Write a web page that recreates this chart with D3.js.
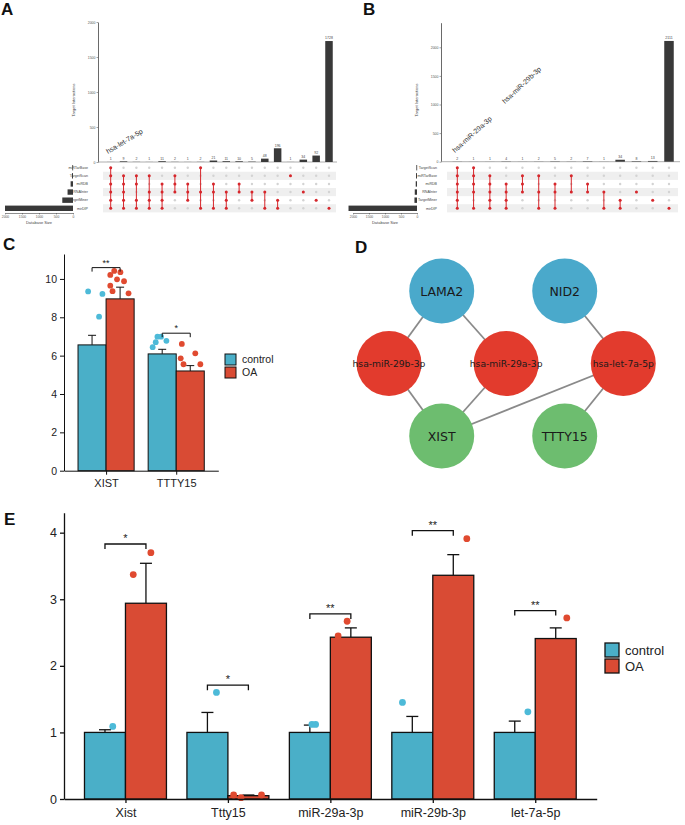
<!DOCTYPE html>
<html><head><meta charset="utf-8">
<script src="https://cdn.jsdelivr.net/npm/d3@7"></script>
<style>body{margin:0;background:#fff} svg{display:block;font-family:"Liberation Sans",Arial,sans-serif}</style>
</head><body><svg id="fig" width="685" height="825"></svg>
<script>
// ---------------- DATA ----------------
// Panel A (UpSet)
const setsA = ["miRTarBase","TargetScan","miRDB","RNAInter","TargetMiner","mirDIP"];
const setSizesA = [20, 30, 70, 160, 315, 2000];
const countsA = [1,9,2,1,11,2,1,2,21,11,10,5,48,196,1,34,92,1728];
const membersA = [[0,1,2,3,4,5],[1,2,3,4,5],[1,2,4,5],[1,3,4,5],[2,3,4,5],[1,2,3],[2,3,4],[0,3,5],[2,3,5],[3,4,5],[2,3],[3,4],[3,5],[4,5],[1],[3],[4],[5]];
const annotA = ["hsa-let-7a-5p"];
// Panel B (UpSet)
const setsB = ["TargetScan","miRTarBase","miRDB","RNAInter","TargetMiner","mirDIP"];
const setSizesB = [20, 30, 40, 70, 80, 2140];
const countsB = [2,1,1,4,1,2,5,2,7,1,34,8,13,2111];
const membersB = [[0,1,2,3,4,5],[0,1,2,3,5],[1,2,3,4,5],[2,3,4,5],[1,2,3],[1,3,5],[2,3,5],[1,3],[2,3],[3,5],[4,5],[3],[4],[5]];
const annotB = ["hsa-miR-29a-3p","hsa-miR-29b-3p"];
const upsetTicks = [0,500,1000,1500,2000];

// Panel C
const catsC = ["XIST","TTTY15"];
const ctrlC = [6.56, 6.09];
const ctrlErrC = [0.50, 0.24];
const oaC = [8.96, 5.20];
const oaErrC = [0.61, 0.28];
const ctrlPtsC = [[9.35, 9.22, 8.03], [6.99, 6.99, 6.70, 6.44, 6.77]];
const oaPtsC = [[10.42, 10.35, 10.21, 9.98, 9.88, 9.65, 9.36, 9.25], [6.61, 5.86, 6.12, 5.55, 5.55]];
const ctrlJitC = [[-0.14, 0.37, 0.25], [-0.17, -0.04, -0.23, -0.34, 0.15]];
const oaJitC = [[-0.21, 0.01, -0.35, -0.11, 0.14, -0.35, -0.27, 0.30], [-0.30, -0.34, 0.18, -0.24, 0.36]];
const sigC = ["**", "*"];
const sigLevelC = [10.59, 7.17];
const ticksC = [0, 2, 4, 6, 8, 10];

// Panel D (network)
const nodesD = [
  {id:"LAMA2", type:"mRNA", col:0.45},
  {id:"NID2", type:"mRNA", col:1.5},
  {id:"hsa-miR-29b-3p", type:"miRNA", col:0},
  {id:"hsa-miR-29a-3p", type:"miRNA", col:1},
  {id:"hsa-let-7a-5p", type:"miRNA", col:2},
  {id:"XIST", type:"lncRNA", col:0.45},
  {id:"TTTY15", type:"lncRNA", col:1.5}
];
const linksD = [
  ["LAMA2","hsa-miR-29b-3p"],["LAMA2","hsa-miR-29a-3p"],["NID2","hsa-let-7a-5p"],
  ["hsa-miR-29b-3p","XIST"],["hsa-miR-29a-3p","XIST"],["hsa-let-7a-5p","XIST"],["hsa-let-7a-5p","TTTY15"]
];

// Panel E
const catsE = ["Xist","Ttty15","miR-29a-3p","miR-29b-3p","let-7a-5p"];
const ctrlE = [1.0, 1.0, 1.0, 1.0, 1.0];
const ctrlErrE = [0.04, 0.30, 0.11, 0.24, 0.17];
const oaE = [2.94, 0.05, 2.43, 3.36, 2.41];
const oaErrE = [0.60, 0.01, 0.14, 0.31, 0.16];
const ctrlPtsE = [[1.09], [1.60], [1.12, 1.12], [1.45], [1.31]];
const oaPtsE = [[3.70, 3.37], [0.06, 0.02, 0.06], [2.67, 2.45], [3.91], [2.72]];
const ctrlJitE = [[0.19], [0.22], [0.05, 0.14], [-0.24], [0.32]];
const oaJitE = [[0.12, -0.31], [-0.36, -0.18, 0.32], [-0.09, -0.31], [0.33], [0.27]];
const sigE = ["*", "*", "**", "**", "**"];
const sigLevelE = [3.83, 1.71, 2.78, 4.03, 2.83];
const ticksE = [0, 1, 2, 3, 4];

const groups = ["control", "OA"];
const COL = {ctrl:"#4aafc8", oa:"#d94b34", ctrlPt:"#4dbad8", oaPt:"#e04a30"};

// ---------------- DRAW ----------------
const fig = d3.select("#fig");

function panelLabel(t, x, y) {
  fig.append("text").attr("x", x).attr("y", y).attr("font-size", 17).attr("font-weight", "bold").attr("fill", "#111").text(t);
}

function drawUpset(L, sets, setSizes, counts, members, annots) {
  const g = fig.append("g");
  const n = counts.length;
  const x = d3.scalePoint().domain(d3.range(n)).range([L.colX0, L.colX1]);
  const y = d3.scaleLinear().domain([0, L.yMax]).range([L.yBase, L.yTop]);
  const rowY = d3.scalePoint().domain(d3.range(sets.length)).range([L.row0, L.row1]);
  const rs = rowY.step();
  const sx = d3.scaleLinear().domain([0, 2000]).range([L.set0, L.set2000]);
  g.selectAll(".stripe").data(d3.range(sets.length).filter(i => i % 2 === 1)).join("rect")
    .attr("x", L.stripeX0).attr("width", L.stripeX1 - L.stripeX0)
    .attr("y", i => rowY(i) - rs / 2).attr("height", rs).attr("fill", "#efefef");
  const ya = g.append("g").attr("transform", `translate(${L.yAxisX},0)`)
    .call(d3.axisLeft(y).tickValues(upsetTicks).tickSize(1.5).tickSizeOuter(0).tickPadding(1).tickFormat(d3.format("d")));
  ya.select(".domain").attr("stroke", "#444").attr("stroke-width", 0.8);
  ya.selectAll(".tick line").attr("stroke", "#444").attr("stroke-width", 0.5);
  ya.selectAll("text").attr("font-size", 3.5).attr("fill", "#555").attr("font-family", "Liberation Sans, Arial");
  g.append("text").attr("transform", `translate(${L.ylabX},${L.ylabY}) rotate(-90)`)
    .attr("text-anchor", "middle").attr("font-size", 4).attr("fill", "#444").text("Target Interactions");
  g.append("line").attr("x1", L.yAxisX).attr("x2", L.baseX1).attr("y1", L.yBase).attr("y2", L.yBase)
    .attr("stroke", "#999").attr("stroke-width", 0.8);
  g.selectAll(".ibar").data(counts).join("rect")
    .attr("x", (d, i) => x(i) - L.barW / 2).attr("width", L.barW)
    .attr("y", d => y(d)).attr("height", d => y(0) - y(d)).attr("fill", "#393939");
  g.selectAll(".ilab").data(counts).join("text")
    .attr("x", (d, i) => x(i)).attr("y", d => y(d) - 1.6).attr("text-anchor", "middle")
    .attr("font-size", 3.5).attr("fill", "#444").text(d => d);
  d3.range(n).forEach(ci => {
    d3.range(sets.length).forEach(ri => {
      g.append("circle").attr("cx", x(ci)).attr("cy", rowY(ri)).attr("r", 1.2).attr("fill", "#d3d3d3");
    });
  });
  members.forEach((m, ci) => {
    const ys = m.map(r => rowY(r));
    if (m.length > 1) {
      g.append("line").attr("x1", x(ci)).attr("x2", x(ci)).attr("y1", d3.min(ys)).attr("y2", d3.max(ys))
        .attr("stroke", "#d7262b").attr("stroke-width", 1);
    }
    ys.forEach(yy => g.append("circle").attr("cx", x(ci)).attr("cy", yy).attr("r", 1.5).attr("fill", "#d7262b"));
  });
  g.selectAll(".sbar").data(setSizes).join("rect")
    .attr("x", d => sx(d)).attr("width", d => Math.max(0.8, sx(0) - sx(d)))
    .attr("y", (d, i) => rowY(i) - 2.7).attr("height", 5.4).attr("fill", "#393939");
  const sa = g.append("g").attr("transform", `translate(0,${L.setAxisY})`)
    .call(d3.axisBottom(sx).tickValues(upsetTicks).tickSize(1.5).tickSizeOuter(0).tickPadding(0.8).tickFormat(d3.format("d")));
  sa.select(".domain").attr("stroke", "#444").attr("stroke-width", 0.6);
  sa.selectAll(".tick line").attr("stroke", "#444").attr("stroke-width", 0.5);
  sa.selectAll("text").attr("font-size", 3.3).attr("fill", "#555").attr("font-family", "Liberation Sans, Arial");
  g.append("text").attr("x", (L.set0 + L.set2000) / 2).attr("y", L.setAxisY + 10.5).attr("text-anchor", "middle")
    .attr("font-size", 4).attr("fill", "#444").text("Database Size");
  g.selectAll(".rlab").data(sets).join("text")
    .attr("x", L.labelX).attr("y", (d, i) => rowY(i) + 1.2).attr("text-anchor", "end")
    .attr("font-size", 3.6).attr("fill", "#444").text(d => d);
  annots.forEach((t, i) => {
    const a = L.annot[i];
    g.append("text").attr("transform", `translate(${a.x},${a.y}) rotate(${a.a})`)
      .attr("font-size", 7).attr("fill", "#333").text(t);
  });
}

drawUpset({yAxisX:98, yTop:22, yBase:162, yMax:2000, colX0:110.7, colX1:329, barW:7.5,
  row0:167.7, row1:208.3, set0:73, set2000:5, stripeX0:103, stripeX1:336, baseX1:337,
  labelX:88, setAxisY:213, ylabX:75, ylabY:100, annot:[{x:108, y:154, a:-31}]},
  setsA, setSizesA, countsA, membersA, annotA);

drawUpset({yAxisX:441, yTop:22.7, yBase:161.7, yMax:2430, colX0:457.3, colX1:669, barW:9.5,
  row0:167.7, row1:208.3, set0:417, set2000:353, stripeX0:447, stripeX1:678, baseX1:680,
  labelX:437, setAxisY:213, ylabX:418, ylabY:100, annot:[{x:455, y:153, a:-42}, {x:505, y:104, a:-43}]},
  setsB, setSizesB, countsB, membersB, annotB);

function drawGrouped(L, cats, ctrl, ctrlErr, oa, oaErr, ctrlPts, oaPts, ctrlJit, oaJit, sig, sigLevel, ticks) {
  const g = fig.append("g");
  const xc = d3.scalePoint().domain(cats).range([L.x0, L.x1]).padding(0.6);
  const bw = xc.step() * 0.4;
  const y = d3.scaleLinear().domain([0, L.yMax]).range([L.y0, L.yTop]);
  const series = [
    {vals: ctrl, err: ctrlErr, pts: ctrlPts, jit: ctrlJit, off: -0.5, fill: COL.ctrl, pt: COL.ctrlPt},
    {vals: oa, err: oaErr, pts: oaPts, jit: oaJit, off: 0.5, fill: COL.oa, pt: COL.oaPt}
  ];
  series.forEach(s => {
    s.vals.forEach((v, i) => {
      const cx = xc(cats[i]) + s.off * bw;
      g.append("line").attr("x1", cx).attr("x2", cx).attr("y1", y(v)).attr("y2", y(v + s.err[i]))
        .attr("stroke", "#111").attr("stroke-width", L.sw);
      g.append("line").attr("x1", cx - L.cap / 2).attr("x2", cx + L.cap / 2).attr("y1", y(v + s.err[i])).attr("y2", y(v + s.err[i]))
        .attr("stroke", "#111").attr("stroke-width", L.sw);
    });
  });
  series.forEach(s => {
    g.selectAll(null).data(s.vals).join("rect")
      .attr("x", (d, i) => xc(cats[i]) + s.off * bw - bw / 2).attr("width", bw)
      .attr("y", d => y(d)).attr("height", d => y(0) - y(d))
      .attr("fill", s.fill).attr("stroke", "#111").attr("stroke-width", L.sw);
  });
  series.forEach(s => {
    s.pts.forEach((arr, i) => {
      arr.forEach((v, k) => {
        g.append("circle").attr("cx", xc(cats[i]) + s.off * bw + s.jit[i][k] * bw).attr("cy", y(v))
          .attr("r", L.r).attr("fill", s.pt);
      });
    });
  });
  const ya = g.append("g").attr("transform", `translate(${L.x0},0)`)
    .call(d3.axisLeft(y).tickValues(ticks).tickSize(4).tickSizeOuter(0).tickPadding(3).tickFormat(d3.format("d")));
  ya.select(".domain").attr("stroke", "#111").attr("stroke-width", L.sw);
  ya.selectAll(".tick line").attr("stroke", "#111").attr("stroke-width", L.sw);
  ya.selectAll("text").attr("font-size", L.ft).attr("fill", "#222").attr("font-family", "Liberation Sans, Arial");
  const xa = g.append("g").attr("transform", `translate(0,${L.y0})`)
    .call(d3.axisBottom(xc).tickSize(4).tickSizeOuter(0).tickPadding(L.catPad));
  xa.select(".domain").attr("stroke", "#111").attr("stroke-width", L.sw);
  xa.selectAll(".tick line").attr("stroke", "#111").attr("stroke-width", L.sw);
  xa.selectAll("text").attr("font-size", L.fc).attr("fill", "#222").attr("font-family", "Liberation Sans, Arial");
  sig.forEach((t, i) => {
    const a = xc(cats[i]) - 0.5 * bw, b = xc(cats[i]) + 0.5 * bw, yy = y(sigLevel[i]);
    g.append("path").attr("d", `M${a},${yy + L.leg}V${yy}H${b}V${yy + L.leg}`)
      .attr("fill", "none").attr("stroke", "#111").attr("stroke-width", L.sw);
    g.append("text").attr("x", (a + b) / 2).attr("y", yy - 2).attr("text-anchor", "middle")
      .attr("font-size", L.fs).attr("fill", "#222").text(t);
  });
  groups.forEach((name, i) => {
    g.append("rect").attr("x", L.lx).attr("y", L.ly + i * (L.ls + 2)).attr("width", L.ls).attr("height", L.ls)
      .attr("fill", i === 0 ? COL.ctrl : COL.oa).attr("stroke", "#111").attr("stroke-width", L.sw);
    g.append("text").attr("x", L.lx + L.ls + 6).attr("y", L.ly + i * (L.ls + 2) + L.ls / 2).attr("dy", "0.35em")
      .attr("font-size", L.fl).attr("fill", "#222").text(name);
  });
}

drawGrouped({x0:64, x1:218.3, y0:470.7, yTop:254, yMax:11.3, sw:1, cap:8, r:2.9, ft:10.5, fc:11, catPad:5,
  leg:4, fs:9, lx:225, ly:354, ls:11, fl:10.5},
  catsC, ctrlC, ctrlErrC, oaC, oaErrC, ctrlPtsC, oaPtsC, ctrlJitC, oaJitC, sigC, sigLevelC, ticksC);

drawGrouped({x0:64, x1:596.7, y0:799, yTop:512.7, yMax:4.3, sw:1.3, cap:12, r:3.4, ft:12.5, fc:12.5, catPad:5,
  leg:5, fs:11, lx:605, ly:643, ls:14, fl:13},
  catsE, ctrlE, ctrlErrE, oaE, oaErrE, ctrlPtsE, oaPtsE, ctrlJitE, oaJitE, sigE, sigLevelE, ticksE);

(function () {
  const g = fig.append("g");
  const tier = {mRNA: 0, miRNA: 1, lncRNA: 2};
  const nodeFill = {mRNA: "#4aa9cb", miRNA: "#e23b2d", lncRNA: "#6dbd6f"};
  const px = d3.scaleLinear().domain([0, 2]).range([389, 623.3]);
  const py = d3.scaleLinear().domain([0, 2]).range([291, 436]);
  const pos = {};
  nodesD.forEach(n => pos[n.id] = [px(n.col), py(tier[n.type])]);
  g.selectAll("line").data(linksD).join("line")
    .attr("x1", d => pos[d[0]][0]).attr("y1", d => pos[d[0]][1])
    .attr("x2", d => pos[d[1]][0]).attr("y2", d => pos[d[1]][1])
    .attr("stroke", "#8a8a8a").attr("stroke-width", 1.8);
  g.selectAll("circle").data(nodesD).join("circle")
    .attr("cx", d => pos[d.id][0]).attr("cy", d => pos[d.id][1]).attr("r", 32.5)
    .attr("fill", d => nodeFill[d.type]);
  g.selectAll("text").data(nodesD).join("text")
    .attr("x", d => pos[d.id][0]).attr("y", d => pos[d.id][1]).attr("dy", "0.36em")
    .attr("text-anchor", "middle").attr("font-family", "DejaVu Sans, sans-serif")
    .attr("font-size", d => d.type === "miRNA" ? 9.2 : 12.5).attr("fill", "#1a1a1a").text(d => d.id);
})();

panelLabel("A", 1, 15);
panelLabel("B", 363, 15);
panelLabel("C", 3, 250);
panelLabel("D", 355, 253);
panelLabel("E", 4, 525);
</script></body></html>
